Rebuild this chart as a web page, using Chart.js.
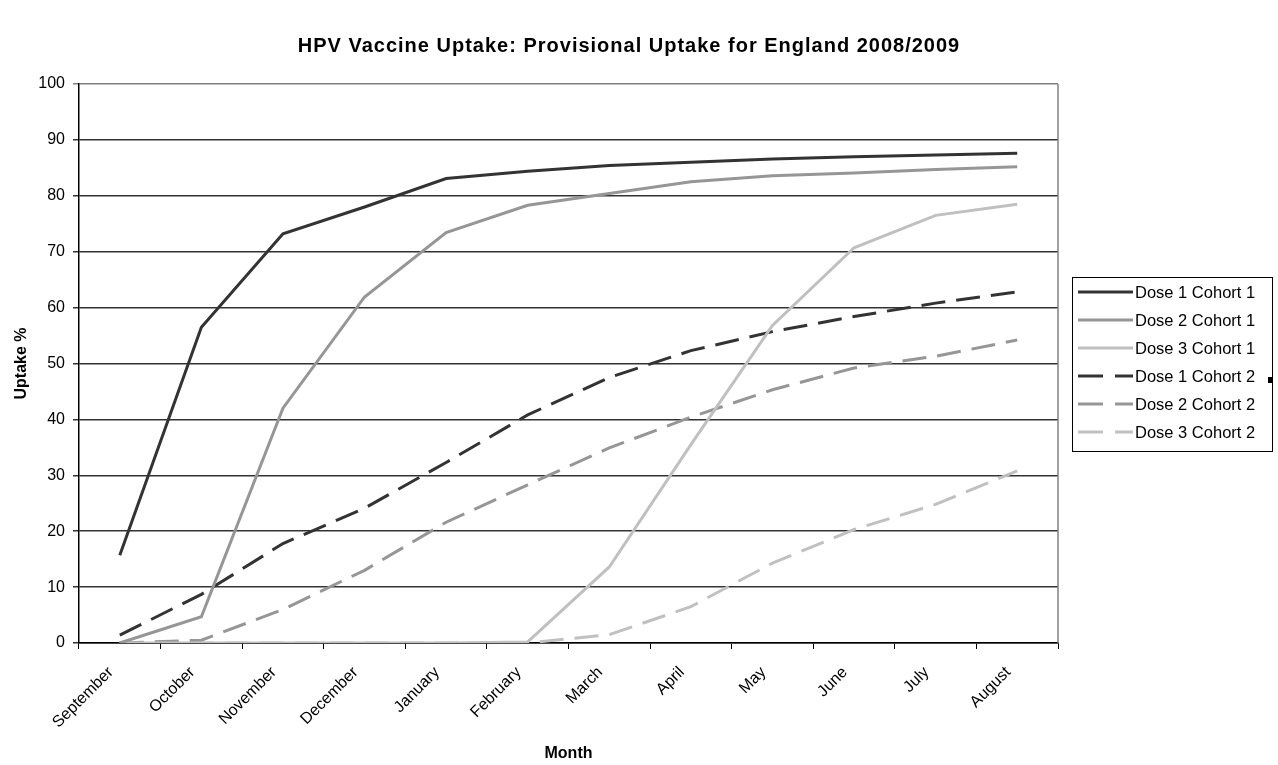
<!DOCTYPE html>
<html>
<head>
<meta charset="utf-8">
<script src="https://cdn.jsdelivr.net/npm/chart.js@4/dist/chart.umd.min.js"></script>
<style>
html,body{margin:0;padding:0;background:#fff;}
#wrap{width:1278px;height:765px;position:relative;}
</style>
</head>
<body>
<div id="wrap"><canvas id="c" width="1278" height="765"></canvas></div>
<script>
const chartTitle = 'HPV Vaccine Uptake: Provisional Uptake for England 2008/2009';
const xTitle = 'Month';
const yTitle = 'Uptake %';
const months = ['September','October','November','December','January','February','March','April','May','June','July','August'];
const seriesNames = ['Dose 1 Cohort 1','Dose 2 Cohort 1','Dose 3 Cohort 1','Dose 1 Cohort 2','Dose 2 Cohort 2','Dose 3 Cohort 2'];
const dose1Cohort1 = [15.7, 56.5, 73.2, 78.0, 83.1, 84.4, 85.4, 86.0, 86.6, 87.0, 87.3, 87.6];
const dose2Cohort1 = [0.0, 4.7, 42.0, 61.9, 73.4, 78.3, 80.4, 82.5, 83.6, 84.1, 84.7, 85.2];
const dose3Cohort1 = [0.0, 0.0, 0.0, 0.0, 0.0, 0.2, 13.6, 35.5, 56.8, 70.7, 76.5, 78.5];
const dose1Cohort2 = [1.4, 8.7, 17.8, 24.1, 32.3, 40.8, 47.5, 52.3, 55.7, 58.4, 60.8, 62.8];
const dose2Cohort2 = [0.0, 0.5, 6.0, 13.0, 21.6, 28.3, 34.9, 40.4, 45.3, 49.2, 51.3, 54.2];
const dose3Cohort2 = [0.0, 0.0, 0.0, 0.0, 0.0, 0.0, 1.5, 6.5, 14.3, 20.3, 24.8, 30.8];
const yTicks = [0,10,20,30,40,50,60,70,80,90,100];

const colors = ['#333333','#969696','#c0c0c0','#333333','#969696','#c0c0c0'];
const dashed = [false,false,false,true,true,true];
const allData = [dose1Cohort1,dose2Cohort1,dose3Cohort1,dose1Cohort2,dose2Cohort2,dose3Cohort2];
const DASH = [24, 11];

const datasets = allData.map((d,i)=>({
  label: seriesNames[i],
  data: d,
  borderColor: colors[i],
  backgroundColor: colors[i],
  borderWidth: 3,
  borderDash: dashed[i] ? DASH : [],
  pointRadius: 0,
  tension: 0,
  fill: false
}));

const FONT = '"Liberation Sans", Arial, sans-serif';

const customDraw = {
  id: 'customDraw',
  afterDraw(chart){
    const ctx = chart.ctx;
    const ca = chart.chartArea;
    ctx.save();
    // right border of plot area
    ctx.strokeStyle = '#808080';
    ctx.lineWidth = 1.5;
    ctx.beginPath();
    ctx.moveTo(ca.right, ca.top);
    ctx.lineTo(ca.right, ca.bottom);
    ctx.stroke();
    // title
    ctx.fillStyle = '#000';
    ctx.font = 'bold 20px ' + FONT;
    ctx.letterSpacing = '1px';
    ctx.textAlign = 'center';
    ctx.textBaseline = 'middle';
    ctx.fillText(chartTitle, 629, 46);
    ctx.letterSpacing = '0px';
    // legend
    const lx = 1072, ly = 277, lw = 200, lh = 174;
    ctx.strokeStyle = '#000';
    ctx.lineWidth = 1;
    ctx.strokeRect(lx+0.5, ly+0.5, lw, lh);
    ctx.font = '16.5px ' + FONT;
    ctx.textAlign = 'left';
    chart.data.datasets.forEach((ds,i)=>{
      const y = ly + 15 + i*28;
      ctx.strokeStyle = ds.borderColor;
      ctx.lineWidth = 3;
      ctx.setLineDash([]);
      ctx.beginPath();
      if (ds.borderDash.length){
        ctx.moveTo(lx+6, y); ctx.lineTo(lx+31, y);
        ctx.moveTo(lx+43, y); ctx.lineTo(lx+61, y);
      } else {
        ctx.moveTo(lx+6, y); ctx.lineTo(lx+61, y);
      }
      ctx.stroke();
      ctx.fillStyle = '#000';
      ctx.fillText(ds.label, lx+63, y+1);
    });
    // small selection handle
    ctx.fillStyle = '#000';
    ctx.fillRect(1268, 377, 5, 6);
    ctx.restore();
  }
};

new Chart(document.getElementById('c'), {
  type: 'line',
  data: { labels: months, datasets },
  options: {
    responsive: false,
    animation: false,
    layout: { padding: { top: 84, right: 220, left: 0, bottom: 0 } },
    plugins: { legend: { display: false }, title: { display: false }, tooltip: { enabled: false } },
    scales: {
      x: {
        type: 'category',
        offset: true,
        afterFit: s => { s.height = 122; },
        grid: { offset: true, drawOnChartArea: false, color: '#000', tickLength: 6, lineWidth: 1 },
        border: { color: '#000', width: 1.5 },
        ticks: { autoSkip: false, minRotation: 45, maxRotation: 45, color: '#000', padding: 14, labelOffset: -9, font: { family: FONT, size: 16 } },
        title: { display: true, text: xTitle, color: '#000', font: { family: FONT, size: 16, weight: 'bold' }, padding: { top: 4, bottom: 2 } }
      },
      y: {
        min: 0, max: 100,
        afterFit: s => { s.width = 79; },
        afterBuildTicks: s => { s.ticks = yTicks.map(v => ({ value: v })); },
        grid: { color: c => c.tick && c.tick.value === 100 ? '#808080' : '#333333', lineWidth: 1.5, tickLength: 6 },
        border: { color: '#000', width: 1.5 },
        ticks: { color: '#000', padding: 8, font: { family: FONT, size: 16 } },
        title: { display: true, text: yTitle, color: '#000', font: { family: FONT, size: 16, weight: 'bold' }, padding: { top: 12, bottom: 4 } }
      }
    }
  },
  plugins: [customDraw]
});
</script>
</body>
</html>
